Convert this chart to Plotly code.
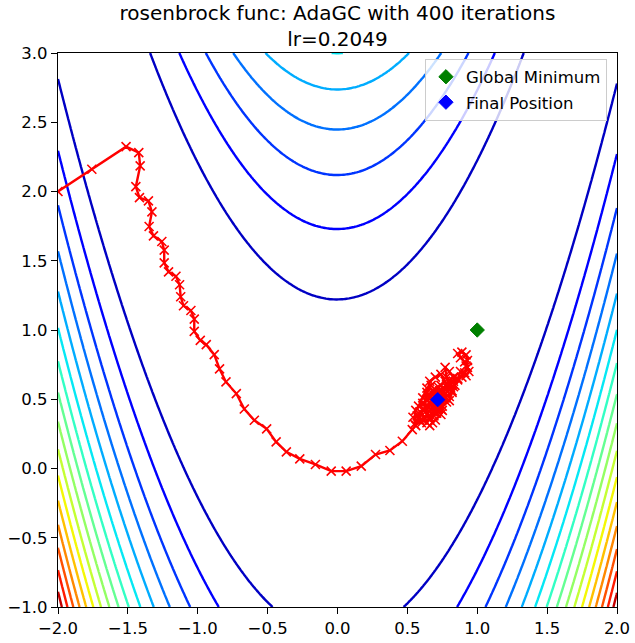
import numpy as np
import plotly.graph_objects as go

# ---- data ----
grid_x = np.linspace(-2.0, 2.0, 220)
grid_y = np.linspace(-1.0, 3.0, 220)
level_start, level_end, level_step = 0.0, 2550.0, 150.0

path_x = [-2.0, -1.758, -1.513, -1.422, -1.412, -1.443, -1.417, -1.353, -1.328, -1.348,
          -1.317, -1.257, -1.240, -1.240, -1.209, -1.156, -1.130, -1.122, -1.102, -1.049,
          -1.025, -1.025, -0.982, -0.939, -0.882, -0.844, -0.798, -0.724, -0.667, -0.595,
          -0.507, -0.439, -0.366, -0.270, -0.158, -0.045, 0.062, 0.170, 0.272, 0.375,
          0.464, 0.535]
path_y = [2.0, 2.161, 2.324, 2.281, 2.185, 2.035, 1.956, 1.932, 1.853, 1.747,
          1.680, 1.639, 1.577, 1.485, 1.420, 1.388, 1.327, 1.240, 1.175, 1.141,
          1.079, 0.990, 0.925, 0.894, 0.822, 0.719, 0.625, 0.541, 0.430, 0.348,
          0.286, 0.192, 0.120, 0.070, 0.029, -0.019, -0.019, 0.017, 0.101, 0.130,
          0.197, 0.281]
cluster_x = [0.56, 0.59, 0.57, 0.54, 0.60, 0.62, 0.59, 0.62, 0.64, 0.61, 0.64, 0.66, 0.63, 0.65,
             0.61, 0.64, 0.67, 0.68, 0.66, 0.69, 0.70, 0.67, 0.65, 0.68, 0.70, 0.72, 0.71,
             0.74, 0.73, 0.70, 0.72, 0.75, 0.76, 0.75, 0.78, 0.77, 0.74, 0.77, 0.79, 0.80,
             0.82, 0.81, 0.78, 0.77, 0.80, 0.83, 0.84, 0.86, 0.88, 0.91, 0.93, 0.91, 0.88,
             0.86, 0.89, 0.92, 0.93, 0.92, 0.94, 0.92, 0.89, 0.86, 0.83, 0.80, 0.79, 0.76,
             0.73, 0.71, 0.69, 0.66, 0.63, 0.60, 0.58, 0.55, 0.56, 0.58, 0.61, 0.64, 0.67,
             0.64, 0.67, 0.70, 0.74, 0.75, 0.74, 0.70, 0.66, 0.68, 0.65, 0.62, 0.66, 0.70,
             0.74, 0.78, 0.81, 0.83, 0.82, 0.80, 0.77, 0.73, 0.75, 0.72, 0.69, 0.72, 0.70,
             0.68, 0.71, 0.717]
cluster_y = [0.31, 0.35, 0.38, 0.37, 0.33, 0.37, 0.41, 0.43, 0.39, 0.35, 0.33, 0.37, 0.41, 0.45,
             0.47, 0.50, 0.46, 0.41, 0.35, 0.38, 0.43, 0.49, 0.53, 0.56, 0.51, 0.46, 0.40,
             0.43, 0.49, 0.55, 0.59, 0.55, 0.50, 0.45, 0.48, 0.54, 0.60, 0.63, 0.58, 0.52,
             0.56, 0.61, 0.66, 0.73, 0.70, 0.66, 0.60, 0.64, 0.70, 0.69, 0.73, 0.77, 0.80,
             0.83, 0.84, 0.82, 0.78, 0.74, 0.70, 0.67, 0.66, 0.65, 0.63, 0.64, 0.60, 0.58,
             0.56, 0.53, 0.50, 0.47, 0.44, 0.40, 0.36, 0.32, 0.42, 0.45, 0.51, 0.58, 0.60,
             0.55, 0.52, 0.57, 0.52, 0.42, 0.39, 0.35, 0.31, 0.33, 0.38, 0.47, 0.63, 0.66,
             0.68, 0.61, 0.58, 0.59, 0.55, 0.49, 0.51, 0.48, 0.50, 0.48, 0.45, 0.43, 0.40,
             0.44, 0.50, 0.497]
minimum_xy = (1.0, 1.0)
title_text = "rosenbrock func: AdaGC with 400 iterations<br>lr=0.2049"
tick_vals_x = [-2.0, -1.5, -1.0, -0.5, 0.0, 0.5, 1.0, 1.5, 2.0]
tick_vals_y = [-1.0, -0.5, 0.0, 0.5, 1.0, 1.5, 2.0, 2.5, 3.0]

iter_x = path_x + cluster_x
iter_y = path_y + cluster_y

# ---- field ----
GX, GY = np.meshgrid(grid_x, grid_y)
Z = (1 - GX) ** 2 + 100 * (GY - GX ** 2) ** 2


def jet(t):
    def seg(pts, t):
        xs = [p[0] for p in pts]
        ys = [p[1] for p in pts]
        return float(np.interp(t, xs, ys))
    r = seg([(0, 0), (0.35, 0), (0.66, 1), (0.89, 1), (1, 0.5)], t)
    g = seg([(0, 0), (0.125, 0), (0.375, 1), (0.64, 1), (0.91, 0), (1, 0)], t)
    b = seg([(0, 0.5), (0.11, 1), (0.34, 1), (0.65, 0), (1, 0)], t)
    return "rgb(%d,%d,%d)" % (round(r * 255), round(g * 255), round(b * 255))


jet_scale = [[i / 64, jet(i / 64)] for i in range(65)]

font_family = "DejaVu Sans"
fig = go.Figure()
fig.add_trace(go.Contour(
    x=grid_x, y=grid_y, z=Z,
    autocontour=False,
    contours=dict(coloring="lines", start=level_start, end=level_end, size=level_step),
    colorscale=jet_scale, showscale=False, line=dict(width=2.4),
    hoverinfo="skip", showlegend=False,
))
fig.add_trace(go.Scatter(
    x=iter_x, y=iter_y, mode="lines+markers",
    line=dict(color="#ff0000", width=2.4),
    marker=dict(symbol="x-thin", size=9, line=dict(color="#ff0000", width=1.6), color="#ff0000"),
    showlegend=False,
))
fig.add_trace(go.Scatter(
    x=[minimum_xy[0]], y=[minimum_xy[1]], mode="markers", name="Global Minimum",
    marker=dict(symbol="diamond", size=11, color="#008000", line=dict(color="#008000", width=1)),
    legendgroup="a",
))
fig.add_trace(go.Scatter(
    x=[iter_x[-1]], y=[iter_y[-1]], mode="markers", name="Final Position",
    marker=dict(symbol="diamond", size=11, color="#0000ff", line=dict(color="#0000ff", width=1)),
    legendgroup="b",
))

axis_common = dict(
    showline=True, mirror=True, linecolor="black", linewidth=1.3,
    ticks="outside", ticklen=6, tickwidth=1.3, tickcolor="black",
    showgrid=False, zeroline=False, tickformat=".1f", automargin=False,
    tickfont=dict(family=font_family, size=16.5, color="black"),
)
fig.update_xaxes(range=[-2, 2], tickvals=tick_vals_x, **axis_common)
fig.update_yaxes(range=[-1, 3], tickvals=tick_vals_y, **axis_common)

fig.update_layout(
    width=635, height=643,
    margin=dict(l=58, r=18, t=53, b=36),
    paper_bgcolor="white", plot_bgcolor="white",
    font=dict(family=font_family, color="black"),
    title=dict(text=title_text, x=0.5, xref="paper", xanchor="center",
               y=1 - 20 / 643, yref="container", yanchor="top",
               font=dict(family=font_family, size=20, color="black")),
    legend=dict(x=0.982, y=0.99, xanchor="right", yanchor="top",
                bgcolor="rgba(255,255,255,0.8)", bordercolor="#cccccc", borderwidth=1,
                font=dict(family=font_family, size=16.5, color="black"),
                tracegroupgap=1),
)
fig.write_html("out.html")
